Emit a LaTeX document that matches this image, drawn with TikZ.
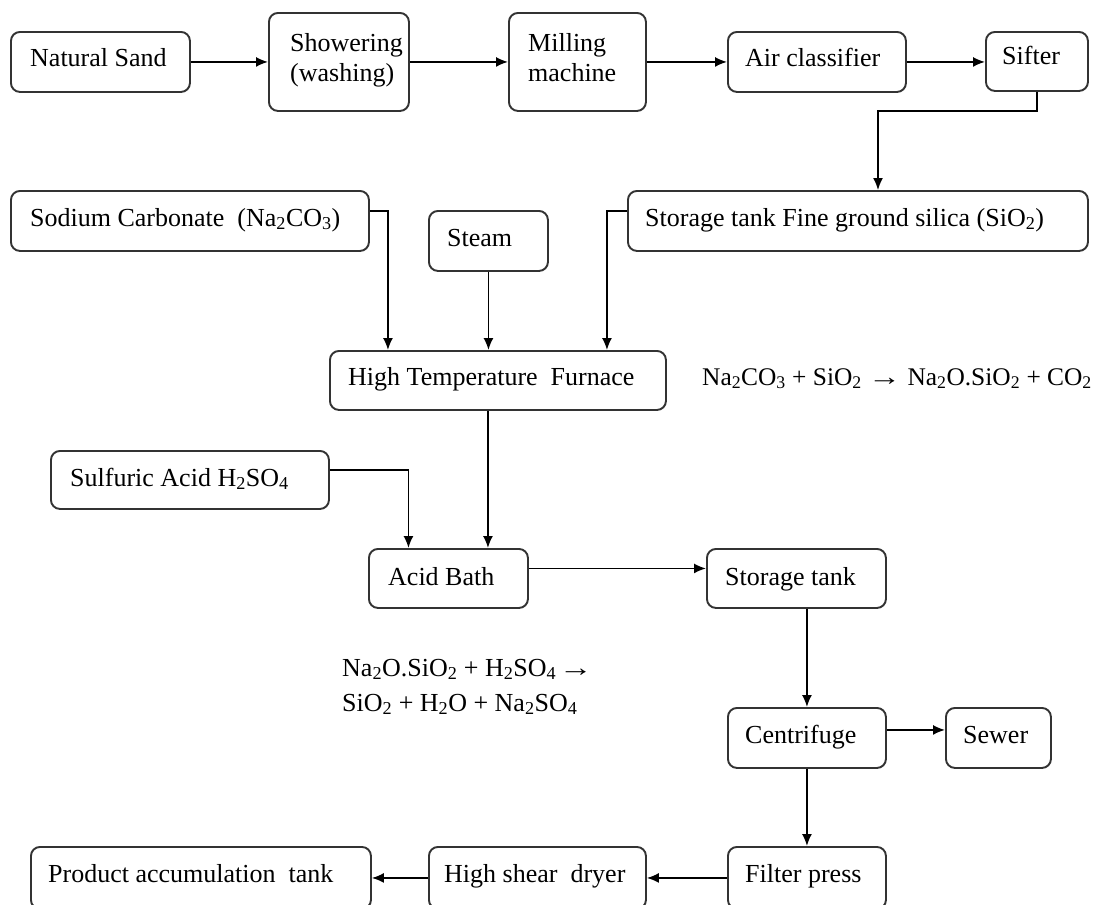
\documentclass[tikz,border=0pt]{standalone}
\usepackage{fontspec}
\setmainfont{Liberation Serif}
\usetikzlibrary{arrows.meta}
\newcommand{\sub}[1]{\textsubscript{#1}}
\newcommand{\yields}{\scalebox{1.3}[1]{→}}
\begin{document}
\begin{tikzpicture}[x=1pt,y=-1pt,
  box/.style={draw=black!80, line width=1.9pt, rounded corners=9pt, anchor=north west, inner sep=0pt},
  txt/.style={anchor=base west, inner sep=0pt, font=\fontsize{26}{30}\selectfont},
  flow/.style={draw=black, line width=1.6pt, -{Latex[length=12pt,width=10pt]}}
]
\useasboundingbox (0,0) rectangle (1096,905);

% process boxes
\node[box, minimum width=179, minimum height=60] (ns)  at (10,31)   {};
\node[box, minimum width=140, minimum height=98] (sh)  at (268,12)  {};
\node[box, minimum width=137, minimum height=98] (mm)  at (508,12)  {};
\node[box, minimum width=178, minimum height=60] (ac)  at (727,31)  {};
\node[box, minimum width=102, minimum height=59] (sf)  at (985,31)  {};
\node[box, minimum width=358, minimum height=60] (sc)  at (10,190)  {};
\node[box, minimum width=119, minimum height=60] (st)  at (428,210) {};
\node[box, minimum width=460, minimum height=60] (sg)  at (627,190) {};
\node[box, minimum width=336, minimum height=59] (htf) at (329,350) {};
\node[box, minimum width=278, minimum height=58] (sa)  at (50,450)  {};
\node[box, minimum width=159, minimum height=59] (ab)  at (368,548) {};
\node[box, minimum width=179, minimum height=59] (stk) at (706,548) {};
\node[box, minimum width=158, minimum height=60] (cf)  at (727,707) {};
\node[box, minimum width=105, minimum height=60] (sw)  at (945,707) {};
\node[box, minimum width=158, minimum height=62] (fp)  at (727,846) {};
\node[box, minimum width=217, minimum height=62] (hsd) at (428,846) {};
\node[box, minimum width=340, minimum height=62] (pat) at (30,846)  {};

% box labels
\node[txt] (nsT)  at (30,66)   {Natural Sand};
\node[txt] (shT1) at (290,51)  {Showering};
\node[txt] (shT2) at (290,81)  {(washing)};
\node[txt] (mmT1) at (528,51)  {Milling};
\node[txt] (mmT2) at (528,81)  {machine};
\node[txt] (acT)  at (745,66)  {Air classifier};
\node[txt] (sfT)  at (1002,64) {Sifter};
\node[txt] (scT)  at (30,226)  {Sodium Carbonate\ \ (Na\sub{2}CO\sub{3})};
\node[txt] (stT)  at (447,246) {Steam};
\node[txt] (sgT)  at (645,226) {Storage tank Fine ground silica (SiO\sub{2})};
\node[txt] (htfT) at (348,385) {High Temperature\ \ Furnace};
\node[txt] (saT)  at (70,486)  {Sulfuric Acid H\sub{2}SO\sub{4}};
\node[txt] (abT)  at (388,585) {Acid Bath};
\node[txt] (stkT) at (725,585) {Storage tank};
\node[txt] (cfT)  at (745,743) {Centrifuge};
\node[txt] (swT)  at (963,743) {Sewer};
\node[txt] (fpT)  at (745,882) {Filter press};
\node[txt] (hsdT) at (444,882) {High shear\ \ dryer};
\node[txt] (patT) at (48,882)  {Product accumulation\ \ tank};

% reaction equations
\node[txt, font=\fontsize{25.4}{30}\selectfont] (eq1) at (702,385)
  {Na\sub{2}CO\sub{3} + SiO\sub{2} \yields{} Na\sub{2}O.SiO\sub{2} + CO\sub{2}};
\node[txt] (eq2a) at (342,676) {Na\sub{2}O.SiO\sub{2} + H\sub{2}SO\sub{4}\hspace{0.1em}\yields};
\node[txt] (eq2b) at (342,711) {SiO\sub{2} + H\sub{2}O + Na\sub{2}SO\sub{4}};

% top line
\draw[flow] (ns.east) -- (sh.west);
\draw[flow] (sh.east) -- (mm.west);
\draw[flow] (mm.east) -- (ac.west);
\draw[flow] (ac.east) -- (ac.east -| sf.west);
\coordinate (j1) at (878,111);
\draw[flow] (sf.south) |- (j1) -- (j1 |- sg.north);

% feeds into the furnace
\draw[flow] ([yshift=10pt]sc.east) -| ([xshift=-110pt]htf.north);
\draw[flow] (st.south) -- (st.south |- htf.north);
\draw[flow] ([yshift=10pt]sg.west) -| ([xshift=109pt]htf.north);

% furnace and acid bath
\draw[flow] ([xshift=-10pt]htf.south) -- ([xshift=-10pt]htf.south |- ab.north);
\draw[flow] ([yshift=10pt]sa.east) -| ([xshift=-40pt]ab.north);
\draw[flow] ([yshift=10pt]ab.east) -- ([yshift=10pt]ab.east -| stk.west);

% separation and drying
\draw[flow] (cf.north |- stk.south) -- (cf.north);
\draw[flow] ([yshift=8pt]cf.east) -- ([yshift=8pt]cf.east -| sw.west);
\draw[flow] (cf.south) -- (fp.north);
\draw[flow] (fp.west) -- (hsd.east);
\draw[flow] (hsd.west) -- (pat.east);
\end{tikzpicture}
\end{document}
